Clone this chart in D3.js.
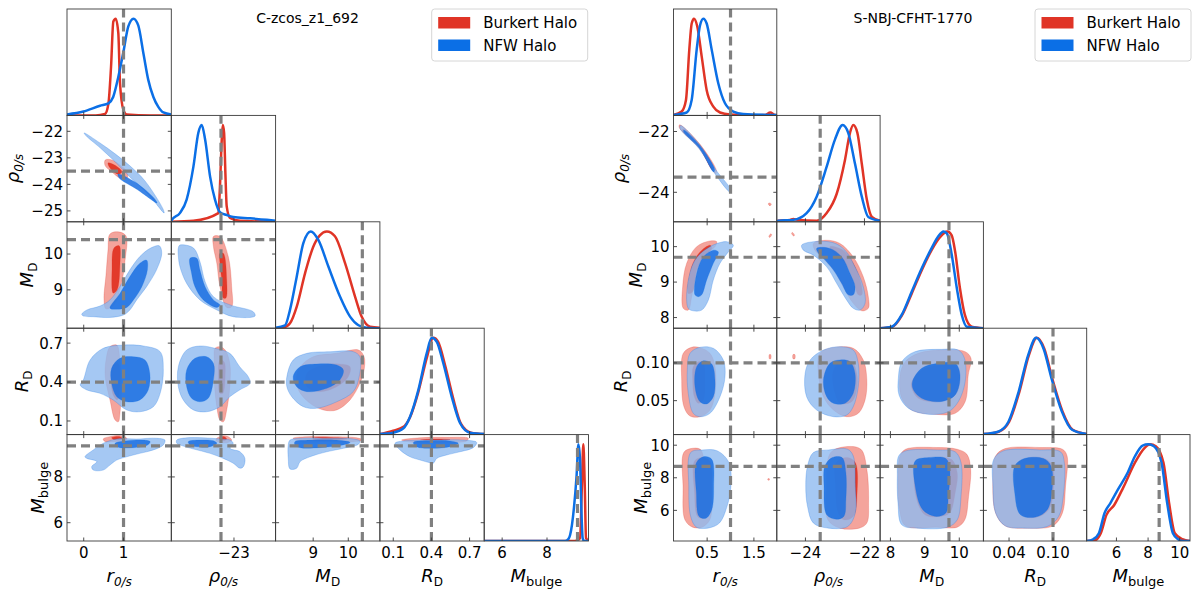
<!DOCTYPE html>
<html><head><meta charset="utf-8">
<script src="https://cdn.jsdelivr.net/npm/d3@7/dist/d3.min.js"></script>
<style>body{margin:0;background:#fff}svg{display:block}text{font-family:"DejaVu Sans",sans-serif}</style>
</head><body><svg id="c" width="1200" height="595"></svg>
<script>
const RED = "#e03426", BLUE = "#0b6fe6", GREY = "#808080";
const seriesNames = ["Burkert Halo", "NFW Halo"];
const axisMain = ["r", "ρ", "M", "R", "M"];
const axisSub = ["0/s", "0/s", "D", "D", "bulge"];
const axisSubItalic = [true, true, false, false, false];

// ---------- LEFT: C-zcos_z1_692 ----------
const leftTitle = "C-zcos_z1_692";
const leftRanges = [[-0.42, 2.2], [-25.41, -21.4], [7.93, 10.9], [-0.005, 0.815], [5.2, 9.85]];
const leftTruth = [1.0, -23.5, 10.4, 0.4, 9.36];
const leftXTicks = [[0, 1], [-23], [9, 10], [0.1, 0.4, 0.7], [6, 8]];
const leftXTickLabels = [["0", "1"], ["−23"], ["9", "10"], ["0.1", "0.4", "0.7"], ["6", "8"]];
const leftYTicks = [[], [-25, -24, -23, -22], [9, 10], [0.1, 0.4, 0.7], [6, 8]];
const leftYTickLabels = [[], ["−25", "−24", "−23", "−22"], ["9", "10"], ["0.1", "0.4", "0.7"], ["6", "8"]];
const leftYLabelX = [0, 19, 33, 28, 44];

const leftDiagBurkert = [
  [[-0.42,0],[0.3,0],[0.535,0.015],[0.62,0.12],[0.686,0.5],[0.744,0.97],[0.804,1.0],[0.869,0.85],[0.912,0.33],[0.995,0.06],[1.08,0.01],[1.67,0],[2.2,0]],
  [[-25.41,0],[-24.56,0.01],[-23.60,0.09],[-23.54,0.36],[-23.47,0.85],[-23.43,1.0],[-23.38,0.92],[-23.33,0.5],[-23.28,0.16],[-23.15,0.04],[-22.77,0.01],[-21.4,0]],
  [[7.93,0],[8.15,0.005],[8.34,0.05],[8.53,0.22],[8.77,0.57],[9.0,0.84],[9.19,0.96],[9.39,1.0],[9.62,0.95],[9.91,0.67],[10.19,0.33],[10.38,0.12],[10.62,0.016],[10.9,0.005]],
  [[-0.005,0.005],[0.10,0.04],[0.18,0.08],[0.232,0.18],[0.297,0.44],[0.363,0.79],[0.415,1.0],[0.452,0.96],[0.507,0.72],[0.57,0.38],[0.633,0.11],[0.711,0.02],[0.815,0.005]],
  [[5.2,0],[9.25,0],[9.47,0.03],[9.56,0.6],[9.62,1.0],[9.68,0.6],[9.74,0.03],[9.85,0]]
];
const leftDiagNFW = [
  [[-0.42,0.01],[-0.01,0.04],[0.41,0.10],[0.62,0.125],[0.74,0.19],[0.87,0.40],[0.99,0.64],[1.12,0.92],[1.25,1.0],[1.37,0.93],[1.50,0.64],[1.62,0.37],[1.75,0.19],[1.87,0.09],[2.0,0.03],[2.2,0.01]],
  [[-25.41,0.01],[-25.39,0.02],[-25.08,0.09],[-24.82,0.23],[-24.56,0.57],[-24.37,0.92],[-24.24,1.0],[-24.11,0.85],[-23.92,0.47],[-23.73,0.23],[-23.54,0.10],[-23.28,0.07],[-23.03,0.05],[-22.38,0.036],[-21.74,0.02],[-21.4,0.01]],
  [[7.93,0.005],[8.20,0.03],[8.34,0.19],[8.53,0.53],[8.72,0.88],[8.93,1.0],[9.15,0.91],[9.43,0.64],[9.76,0.33],[10.05,0.12],[10.29,0.03],[10.52,0.005],[10.9,0]],
  [[-0.005,0.006],[0.10,0.02],[0.18,0.065],[0.232,0.185],[0.297,0.46],[0.363,0.84],[0.402,1.0],[0.442,0.96],[0.493,0.74],[0.56,0.39],[0.625,0.12],[0.703,0.02],[0.815,0.006]],
  [[5.2,0],[8.8,0],[8.95,0.02],[9.03,0.062],[9.20,0.34],[9.32,0.68],[9.40,1.0],[9.47,0.86],[9.53,0.34],[9.59,0.03],[9.66,0],[9.85,0]]
];
// [row, col, polygon]  (x = column parameter, y = row parameter)
const leftBurkert95 = [
  [1,0,[[0.54,-23.08],[0.71,-23.08],[0.91,-23.27],[1.09,-23.53],[1.09,-23.76],[0.91,-23.76],[0.71,-23.53],[0.54,-23.30]]],
  [2,0,[[0.66,10.56],[0.86,10.62],[1.06,10.51],[1.04,9.84],[0.94,9.14],[0.76,8.58],[0.56,8.47],[0.51,8.72],[0.56,9.42],[0.61,10.11]]],
  [2,1,[[-23.79,10.49],[-23.54,10.49],[-23.22,9.93],[-23.09,9.09],[-23.09,8.53],[-23.28,8.51],[-23.54,9.09],[-23.66,9.74],[-23.79,10.21]]],
  [3,0,[[0.66,0.672],[0.83,0.685],[0.91,0.566],[0.95,0.364],[0.91,0.159],[0.87,0.094],[0.79,0.107],[0.66,0.262],[0.54,0.441],[0.56,0.57]]],
  [3,1,[[-23.73,0.66],[-23.54,0.672],[-23.34,0.647],[-23.16,0.544],[-23.16,0.364],[-23.28,0.185],[-23.41,0.094],[-23.54,0.107],[-23.66,0.21],[-23.76,0.416],[-23.76,0.57]]],
  [3,2,[[8.63,0.518],[9.0,0.595],[9.67,0.621],[10.29,0.647],[10.45,0.595],[10.45,0.493],[10.33,0.39],[10.05,0.262],[9.67,0.185],[9.29,0.185],[8.91,0.236],[8.58,0.339],[8.53,0.441]]],
  [4,0,[[0.49,9.66],[0.66,9.76],[0.95,9.80],[1.08,9.69],[1.04,9.57],[0.74,9.54],[0.54,9.54]]],
  [4,1,[[-23.66,9.69],[-23.41,9.80],[-23.22,9.76],[-23.09,9.61],[-23.22,9.51],[-23.54,9.51],[-23.69,9.58]]],
  [4,2,[[8.43,9.69],[8.82,9.76],[9.57,9.76],[10.24,9.71],[10.43,9.61],[10.14,9.54],[9.39,9.54],[8.63,9.54]]],
  [4,3,[[0.166,9.61],[0.310,9.71],[0.52,9.73],[0.69,9.69],[0.677,9.57],[0.493,9.51],[0.258,9.51]]]
];
const leftBurkert68 = [
  [1,0,[[0.61,-23.19],[0.81,-23.30],[0.96,-23.53],[0.86,-23.61],[0.66,-23.38]]],
  [2,0,[[0.76,10.17],[0.89,10.23],[0.91,9.70],[0.84,9.0],[0.74,8.91],[0.71,9.56]]],
  [2,1,[[-23.54,10.02],[-23.41,10.02],[-23.28,9.28],[-23.31,8.77],[-23.41,8.77],[-23.47,9.28],[-23.54,9.74]]],
  [3,0,[[0.74,0.531],[0.86,0.547],[0.91,0.377],[0.84,0.262],[0.74,0.3],[0.69,0.416]]],
  [3,1,[[-23.54,0.57],[-23.38,0.557],[-23.34,0.441],[-23.43,0.313],[-23.54,0.313],[-23.6,0.441]]],
  [3,2,[[8.82,0.467],[9.29,0.531],[9.76,0.539],[10.05,0.518],[10.0,0.441],[9.67,0.364],[9.19,0.326],[8.82,0.364]]],
  [4,0,[[0.70,9.71],[0.91,9.76],[0.98,9.66],[0.79,9.61]]],
  [4,1,[[-23.56,9.69],[-23.38,9.76],[-23.28,9.66],[-23.41,9.58]]],
  [4,2,[[9.0,9.69],[9.67,9.71],[9.96,9.66],[9.57,9.60],[9.0,9.60]]],
  [4,3,[[0.310,9.61],[0.442,9.66],[0.546,9.63],[0.442,9.57],[0.336,9.57]]]
];
const leftNFW95 = [
  [1,0,[[0.01,-22.06],[0.41,-22.44],[0.79,-22.85],[1.16,-23.30],[1.54,-23.87],[1.99,-24.92],[2.02,-25.08],[1.62,-24.37],[1.16,-23.72],[0.79,-23.15],[0.41,-22.62],[0.06,-22.17]]],
  [2,0,[[-0.05,8.32],[0.08,8.44],[0.41,8.55],[0.66,8.72],[0.91,9.09],[1.16,9.56],[1.41,9.93],[1.67,10.16],[1.90,10.23],[1.96,10.02],[1.83,9.56],[1.58,9.09],[1.33,8.72],[1.16,8.44],[1.0,8.30],[0.66,8.23],[0.24,8.25],[-0.01,8.27]]],
  [2,1,[[-25.14,10.17],[-25.08,10.25],[-24.56,10.17],[-24.31,9.79],[-24.11,9.23],[-23.79,8.81],[-23.15,8.58],[-22.26,8.39],[-22.19,8.27],[-23.03,8.25],[-23.66,8.44],[-24.31,8.72],[-24.82,9.18],[-25.08,9.65],[-25.14,9.95]]],
  [3,0,[[-0.01,0.416],[0.16,0.57],[0.49,0.66],[0.99,0.685],[1.50,0.678],[1.92,0.634],[2.0,0.493],[1.92,0.313],[1.75,0.21],[1.41,0.171],[1.08,0.185],[0.74,0.262],[0.41,0.313],[0.08,0.339],[-0.09,0.377]]],
  [3,1,[[-25.14,0.518],[-24.82,0.647],[-24.31,0.678],[-23.73,0.66],[-23.16,0.621],[-22.78,0.518],[-22.45,0.441],[-22.38,0.39],[-22.78,0.339],[-23.16,0.287],[-23.54,0.21],[-24.05,0.171],[-24.56,0.185],[-24.95,0.262],[-25.14,0.364]]],
  [3,2,[[8.25,0.441],[8.43,0.57],[8.82,0.621],[9.48,0.634],[10.14,0.634],[10.33,0.595],[10.31,0.441],[10.14,0.326],[9.67,0.248],[9.10,0.198],[8.72,0.21],[8.39,0.287],[8.25,0.364]]],
  [4,0,[[0.03,8.88],[0.24,9.18],[0.49,9.47],[0.83,9.66],[1.33,9.66],[1.83,9.69],[2.04,9.61],[2.0,9.40],[1.75,9.18],[1.41,9.03],[1.08,8.88],[0.83,8.74],[0.66,8.52],[0.49,8.30],[0.24,8.30],[0.20,8.45],[0.33,8.67],[0.08,8.81]]],
  [4,1,[[-25.20,9.61],[-24.82,9.71],[-24.18,9.71],[-23.54,9.66],[-23.15,9.61],[-23.03,9.47],[-23.15,9.25],[-22.77,9.10],[-22.58,8.81],[-22.64,8.45],[-22.77,8.38],[-23.03,8.60],[-23.41,8.81],[-23.92,9.03],[-24.56,9.22],[-25.01,9.37],[-25.20,9.47]]],
  [4,2,[[8.29,9.40],[8.34,9.61],[8.63,9.69],[9.39,9.69],[10.14,9.66],[10.33,9.57],[10.29,9.43],[9.86,9.25],[9.39,9.10],[8.91,8.88],[8.63,8.67],[8.53,8.38],[8.34,8.35],[8.29,8.81]]],
  [4,3,[[0.114,9.47],[0.179,9.57],[0.389,9.61],[0.651,9.61],[0.756,9.51],[0.729,9.28],[0.625,9.10],[0.52,8.96],[0.442,8.81],[0.415,8.60],[0.389,8.62],[0.310,8.74],[0.232,8.88],[0.153,9.18]]]
];
const leftNFW68 = [
  [1,0,[[0.86,-23.61],[1.29,-23.91],[1.79,-24.56],[1.84,-24.70],[1.33,-24.18],[0.89,-23.76]]],
  [2,0,[[0.66,8.49],[0.91,8.90],[1.16,9.37],[1.41,9.74],[1.58,9.83],[1.60,9.56],[1.46,9.09],[1.25,8.72],[1.08,8.51],[0.83,8.46]]],
  [2,1,[[-24.69,9.88],[-24.43,9.88],[-24.31,9.56],[-24.11,9.09],[-23.79,8.72],[-23.54,8.58],[-23.66,8.51],[-24.18,8.72],[-24.5,9.09],[-24.63,9.46]]],
  [3,0,[[0.70,0.506],[0.91,0.583],[1.25,0.595],[1.54,0.57],[1.66,0.467],[1.62,0.339],[1.41,0.262],[1.08,0.248],[0.83,0.287],[0.70,0.39]]],
  [3,1,[[-24.82,0.493],[-24.5,0.583],[-24.05,0.595],[-23.79,0.544],[-23.79,0.416],[-23.99,0.275],[-24.31,0.248],[-24.63,0.275],[-24.82,0.364]]],
  [3,2,[[8.43,0.441],[8.63,0.518],[9.10,0.539],[9.67,0.531],[9.86,0.493],[9.76,0.416],[9.39,0.352],[8.82,0.326],[8.53,0.364]]],
  [4,0,[[0.79,9.47],[1.08,9.58],[1.50,9.61],[1.67,9.54],[1.58,9.37],[1.25,9.28],[0.91,9.28],[0.79,9.37]]],
  [4,1,[[-24.76,9.54],[-24.31,9.61],[-23.79,9.58],[-23.66,9.47],[-23.92,9.32],[-24.43,9.32],[-24.69,9.40]]],
  [4,2,[[8.48,9.54],[8.91,9.61],[9.67,9.61],[10.05,9.51],[9.76,9.37],[9.19,9.28],[8.63,9.28],[8.48,9.40]]],
  [4,3,[[0.258,9.51],[0.389,9.58],[0.546,9.57],[0.611,9.47],[0.546,9.32],[0.389,9.25],[0.284,9.32]]]
];

// ---------- RIGHT: S-NBJ-CFHT-1770 ----------
const rightTitle = "S-NBJ-CFHT-1770";
const rightRanges = [[-0.22, 1.99], [-24.97, -21.47], [7.7, 10.7], [0.005, 0.146], [4.12, 10.65]];
const rightTruth = [1.0, -23.5, 9.7, 0.10, 8.7];
const rightXTicks = [[0.5, 1.5], [-24, -22], [8, 9, 10], [0.04, 0.10], [6, 8, 10]];
const rightXTickLabels = [["0.5", "1.5"], ["−24", "−22"], ["8", "9", "10"], ["0.04", "0.10"], ["6", "8", "10"]];
const rightYTicks = [[], [-24, -22], [8, 9, 10], [0.05, 0.10], [6, 8, 10]];
const rightYTickLabels = [[], ["−24", "−22"], ["8", "9", "10"], ["0.05", "0.10"], ["6", "8", "10"]];
const rightYLabelX = [0, 625, 642, 627, 647];

const rightDiagBurkert = [
  [[-0.22,0.005],[-0.045,0.04],[0.047,0.16],[0.118,0.68],[0.169,0.95],[0.218,1.0],[0.289,0.92],[0.383,0.61],[0.49,0.26],[0.632,0.09],[0.775,0.03],[0.99,0.01],[1.5,0.002],[1.74,0.005],[1.85,0.03],[1.95,0.005],[1.99,0.003]],
  [[-24.97,0.005],[-24.92,0.01],[-24.52,0.02],[-24.41,0.03],[-24.28,0.02],[-23.62,0.01],[-23.28,0.09],[-22.94,0.29],[-22.66,0.64],[-22.49,0.92],[-22.38,1.0],[-22.24,0.92],[-22.09,0.6],[-21.92,0.23],[-21.75,0.05],[-21.47,0.01]],
  [[7.7,0],[8.04,0.012],[8.33,0.13],[8.62,0.36],[8.91,0.6],[9.20,0.81],[9.44,0.94],[9.65,1.0],[9.78,0.96],[9.88,0.79],[10.02,0.41],[10.16,0.14],[10.36,0.015],[10.7,0]],
  [[0.005,0.005],[0.026,0.03],[0.040,0.13],[0.054,0.44],[0.067,0.82],[0.078,1.0],[0.088,0.89],[0.099,0.58],[0.113,0.24],[0.127,0.05],[0.146,0.006]],
  [[4.12,0],[4.6,0.005],[5.01,0.08],[5.37,0.27],[5.85,0.37],[6.45,0.56],[7.17,0.81],[7.77,0.96],[8.13,1.0],[8.49,0.98],[8.97,0.81],[9.33,0.39],[9.69,0.08],[10.17,0.018],[10.65,0]]
];
const rightDiagNFW = [
  [[-0.22,0.005],[0.062,0.03],[0.169,0.16],[0.276,0.68],[0.347,0.93],[0.418,1.0],[0.49,0.95],[0.597,0.68],[0.739,0.33],[0.882,0.125],[1.06,0.04],[1.27,0.015],[1.99,0.005]],
  [[-24.97,0.005],[-24.92,0.01],[-24.41,0.02],[-23.96,0.09],[-23.62,0.26],[-23.28,0.57],[-23.0,0.85],[-22.74,1.0],[-22.55,0.92],[-22.32,0.6],[-22.09,0.26],[-21.87,0.05],[-21.47,0.01]],
  [[7.7,0],[8.04,0.015],[8.33,0.14],[8.62,0.38],[8.91,0.62],[9.20,0.83],[9.39,0.95],[9.54,1.0],[9.64,0.98],[9.78,0.76],[9.93,0.41],[10.07,0.14],[10.22,0.015],[10.7,0]],
  [[0.005,0.005],[0.025,0.03],[0.039,0.13],[0.053,0.44],[0.066,0.82],[0.077,1.0],[0.087,0.89],[0.098,0.58],[0.112,0.24],[0.126,0.05],[0.146,0.006]],
  [[4.12,0],[4.53,0.018],[4.89,0.08],[5.25,0.29],[5.61,0.39],[6.09,0.53],[6.69,0.70],[7.17,0.876],[7.65,0.987],[8.01,1.0],[8.37,0.98],[8.85,0.81],[9.21,0.39],[9.57,0.08],[9.9,0.018],[10.2,0],[10.65,0]]
];
const rightBurkert95 = [
  [1,0,[[-0.09,-21.78],[0.347,-22.42],[0.70,-23.30],[0.68,-23.38],[0.33,-22.56],[-0.10,-21.86]]],
  [1,0,[[1.82,-24.35],[1.87,-24.38],[1.86,-24.43],[1.81,-24.40]]],
  [2,0,[[-0.011,8.26],[-0.024,8.87],[0.062,9.53],[0.276,10.0],[0.561,10.16],[0.704,10.14],[0.668,10.0],[0.49,9.81],[0.347,9.53],[0.24,9.06],[0.169,8.59],[0.096,8.21]]],
  [2,0,[[1.82,10.28],[1.86,10.36],[1.88,10.34],[1.84,10.26]]],
  [2,1,[[-23.73,10.09],[-23.28,10.18],[-22.83,10.09],[-22.38,9.71],[-22.04,9.15],[-21.87,8.59],[-21.87,8.26],[-22.09,8.19],[-22.38,8.40],[-22.72,8.87],[-23.05,9.34],[-23.45,9.71],[-23.68,9.90]]],
  [2,1,[[-24.47,10.38],[-24.40,10.30],[-24.37,10.32],[-24.44,10.40]]],
  [3,0,[[-0.011,0.1127],[0.169,0.1207],[0.347,0.1202],[0.561,0.1127],[0.668,0.095],[0.668,0.0597],[0.561,0.0376],[0.347,0.0287],[0.133,0.0296],[0.004,0.042],[-0.045,0.0774]]],
  [3,0,[[1.83,0.1055],[1.86,0.1055],[1.86,0.1110],[1.83,0.1110]]],
  [3,1,[[-23.51,0.1127],[-23.05,0.1202],[-22.38,0.1194],[-22.04,0.1039],[-21.92,0.0774],[-21.98,0.0509],[-22.21,0.0332],[-22.6,0.0287],[-23.05,0.0376],[-23.39,0.0552],[-23.56,0.0862]]],
  [3,1,[[-24.42,0.1055],[-24.36,0.1055],[-24.36,0.1110],[-24.42,0.1110]]],
  [3,2,[[8.28,0.084],[8.43,0.1016],[8.81,0.1127],[9.49,0.1171],[10.17,0.1149],[10.34,0.1061],[10.26,0.084],[10.17,0.0486],[9.88,0.0332],[9.30,0.0319],[8.62,0.0376],[8.33,0.0531]]],
  [4,0,[[0.0,9.55],[0.147,9.79],[0.352,9.75],[0.434,9.13],[0.557,7.69],[0.598,6.45],[0.557,5.42],[0.393,4.97],[0.189,4.97],[0.025,5.42],[-0.016,7.48]]],
  [4,0,[[1.80,7.86],[1.83,7.86],[1.83,7.94],[1.80,7.94]]],
  [4,1,[[-23.09,9.65],[-22.57,9.92],[-22.12,9.75],[-21.92,8.52],[-21.86,6.45],[-21.92,5.22],[-22.18,4.91],[-22.83,4.91],[-23.24,5.42],[-23.28,7.48],[-23.24,9.13]]],
  [4,2,[[8.28,9.34],[8.44,9.75],[9.33,9.86],[9.94,9.75],[10.22,9.44],[10.33,8.52],[10.27,6.87],[10.16,5.42],[9.94,4.97],[9.33,4.97],[8.44,5.05],[8.28,5.84],[8.22,7.90]]],
  [4,3,[[0.0217,9.34],[0.0347,9.79],[0.0816,9.86],[0.1129,9.75],[0.1192,9.34],[0.1171,7.48],[0.1129,5.84],[0.1,5.05],[0.066,4.91],[0.0347,5.05],[0.0217,5.84],[0.018,7.90]]]
];
const rightBurkert68 = [
  [1,0,[[-0.02,-21.92],[0.347,-22.46],[0.63,-23.20],[0.61,-23.26],[0.33,-22.53],[-0.03,-21.98]]],
  [2,0,[[0.096,8.68],[0.169,9.43],[0.347,9.85],[0.561,10.04],[0.597,9.95],[0.418,9.71],[0.276,9.34],[0.19,8.73]]],
  [2,1,[[-23.17,10.0],[-22.72,9.90],[-22.32,9.43],[-22.09,8.87],[-22.09,8.64],[-22.21,8.64],[-22.38,9.06],[-22.66,9.53],[-23.05,9.81]]],
  [3,0,[[0.203,0.095],[0.31,0.1016],[0.418,0.0995],[0.454,0.0774],[0.418,0.0509],[0.31,0.0465],[0.225,0.0552],[0.19,0.0774]]],
  [3,1,[[-23.05,0.0906],[-22.83,0.1016],[-22.43,0.1016],[-22.26,0.0862],[-22.26,0.0641],[-22.43,0.0486],[-22.83,0.0465],[-23.0,0.0597],[-23.08,0.0774]]],
  [3,2,[[8.62,0.0751],[8.91,0.0906],[9.49,0.0972],[9.93,0.095],[10.02,0.0796],[9.88,0.0575],[9.39,0.0486],[8.81,0.0531],[8.62,0.0664]]],
  [4,0,[[0.23,9.03],[0.393,9.24],[0.557,9.03],[0.598,7.48],[0.557,6.04],[0.434,5.52],[0.295,5.63],[0.23,7.07]]],
  [4,1,[[-22.96,8.93],[-22.57,9.24],[-22.31,8.93],[-22.25,7.07],[-22.38,5.63],[-22.70,5.42],[-22.89,5.84],[-22.98,7.48]]],
  [4,2,[[8.78,8.93],[9.22,9.18],[9.77,9.13],[9.94,8.31],[9.88,7.07],[9.72,5.84],[9.44,5.63],[9.0,5.73],[8.72,7.07]]],
  [4,3,[[0.0498,8.72],[0.0628,9.18],[0.0889,9.18],[0.0993,8.72],[0.1003,7.07],[0.0941,6.04],[0.0784,5.59],[0.0576,5.73],[0.0498,7.07]]]
];
const rightNFW95 = [
  [1,0,[[-0.07,-21.80],[0.347,-22.44],[0.70,-23.29],[0.99,-23.88],[0.98,-23.98],[0.68,-23.42],[0.33,-22.57],[-0.08,-21.90]]],
  [2,0,[[0.096,8.26],[0.075,8.87],[0.24,9.62],[0.561,10.0],[0.919,10.14],[1.06,10.04],[0.953,9.85],[0.775,9.53],[0.632,9.06],[0.525,8.49],[0.383,8.21],[0.203,8.19]]],
  [2,1,[[-24.13,10.04],[-23.73,10.14],[-23.05,10.11],[-22.66,9.90],[-22.32,9.43],[-22.04,8.87],[-21.98,8.40],[-22.15,8.21],[-22.38,8.26],[-22.6,8.49],[-22.94,8.96],[-23.28,9.43],[-23.73,9.76],[-24.07,9.90]]],
  [3,0,[[0.133,0.1127],[0.347,0.1207],[0.632,0.1194],[0.846,0.1039],[0.882,0.0817],[0.775,0.0552],[0.561,0.0332],[0.347,0.0287],[0.203,0.0332],[0.096,0.0597],[0.075,0.0906]]],
  [3,1,[[-24.01,0.0862],[-23.84,0.1039],[-23.39,0.1171],[-22.83,0.1215],[-22.38,0.1171],[-22.21,0.0995],[-22.21,0.0685],[-22.38,0.042],[-22.6,0.031],[-23.05,0.0287],[-23.62,0.0376],[-23.96,0.0552]]],
  [3,2,[[8.23,0.0796],[8.33,0.1016],[8.71,0.1149],[9.49,0.118],[9.97,0.1171],[10.15,0.1061],[10.17,0.0751],[9.97,0.0486],[9.68,0.0353],[9.10,0.0319],[8.52,0.0399],[8.25,0.0575]]],
  [4,0,[[0.147,9.55],[0.393,9.71],[0.721,9.65],[0.967,8.93],[1.008,7.48],[0.926,6.25],[0.762,5.22],[0.516,4.91],[0.27,4.97],[0.147,5.63],[0.107,7.48]]],
  [4,1,[[-23.93,8.72],[-23.73,9.55],[-23.22,9.71],[-22.57,9.75],[-22.38,9.34],[-22.31,7.48],[-22.31,5.84],[-22.57,5.01],[-23.22,4.91],[-23.73,5.22],[-23.93,6.25],[-23.99,7.48]]],
  [4,2,[[8.24,9.34],[8.44,9.65],[9.33,9.71],[9.88,9.59],[10.05,8.93],[10.05,6.87],[9.94,5.42],[9.66,4.97],[8.78,4.91],[8.33,5.11],[8.22,6.45],[8.20,8.10]]],
  [4,3,[[0.0191,9.13],[0.0321,9.65],[0.0816,9.71],[0.1103,9.59],[0.1155,8.93],[0.114,6.87],[0.1077,5.63],[0.0921,5.01],[0.0608,4.91],[0.0347,5.05],[0.0217,5.84],[0.018,7.48]]]
];
const rightNFW68 = [
  [1,0,[[0.0,-21.95],[0.347,-22.47],[0.66,-23.25],[0.64,-23.33],[0.33,-22.54],[0.0,-22.02]]],
  [2,0,[[0.24,8.64],[0.276,9.25],[0.418,9.71],[0.632,9.90],[0.739,9.85],[0.632,9.53],[0.49,9.06],[0.383,8.64],[0.31,8.59]]],
  [2,1,[[-23.62,9.95],[-23.17,9.95],[-22.77,9.71],[-22.49,9.25],[-22.32,8.87],[-22.38,8.64],[-22.55,8.64],[-22.77,8.96],[-23.05,9.34],[-23.39,9.67],[-23.56,9.81]]],
  [3,0,[[0.276,0.095],[0.418,0.1029],[0.597,0.0986],[0.668,0.0774],[0.632,0.0552],[0.49,0.0456],[0.347,0.0486],[0.24,0.0685]]],
  [3,1,[[-23.39,0.0774],[-23.17,0.0995],[-22.83,0.1039],[-22.49,0.1016],[-22.32,0.0862],[-22.38,0.0597],[-22.66,0.0465],[-23.05,0.0465],[-23.28,0.0552]]],
  [3,2,[[8.64,0.0751],[8.91,0.0929],[9.39,0.0995],[9.88,0.0995],[10.02,0.084],[9.88,0.0575],[9.44,0.0486],[8.91,0.0531],[8.67,0.0641]]],
  [4,0,[[0.27,8.93],[0.434,9.30],[0.598,9.13],[0.639,7.48],[0.598,6.04],[0.475,5.52],[0.328,5.63],[0.27,7.07]]],
  [4,1,[[-23.34,8.72],[-23.09,9.24],[-22.76,9.24],[-22.63,8.31],[-22.63,6.66],[-22.70,5.63],[-22.96,5.46],[-23.28,5.73],[-23.37,7.48]]],
  [4,2,[[8.72,9.03],[9.11,9.24],[9.61,9.18],[9.72,8.52],[9.68,6.87],[9.61,5.84],[9.33,5.63],[8.94,6.04],[8.72,7.48]]],
  [4,3,[[0.0478,8.72],[0.0608,9.18],[0.0869,9.18],[0.0973,8.72],[0.0983,7.07],[0.0921,6.04],[0.0764,5.59],[0.0556,5.73],[0.0478,7.07]]]
];

const svg = d3.select("#c");
const defs = svg.append("defs");

function drawCorner(o) {
  const n = 5;
  const colX = i => o.x0 + i * o.cw;
  const rowY = i => o.y0 + i * o.ch;
  const xs = o.ranges.map((r, i) => d3.scaleLinear().domain(r).range([colX(i), colX(i + 1)]));
  const ys = o.ranges.map((r, i) => d3.scaleLinear().domain(r).range([rowY(i + 1), rowY(i)]));
  const g = svg.append("g");
  const dashAttr = sel => sel.attr("stroke", GREY).attr("stroke-width", 3.2).attr("stroke-dasharray", "9,5");
  const TL = 3.5;
  for (let i = 0; i < n; i++) for (let j = 0; j <= i; j++) {
    const id = `clip-${o.id}-${i}-${j}`;
    defs.append("clipPath").attr("id", id).append("rect")
      .attr("x", colX(j)).attr("y", rowY(i)).attr("width", o.cw).attr("height", o.ch);
    const pg = g.append("g").attr("clip-path", `url(#${id})`);
    const xsc = xs[j];
    if (i === j) {
      const dsc = d3.scaleLinear().domain([0, 1.1]).range([rowY(i + 1), rowY(i)]);
      const line = d3.line().x(d => xsc(d[0])).y(d => dsc(d[1])).curve(d3.curveMonotoneX);
      pg.append("path").attr("d", line(o.diagB[i])).attr("fill", "none").attr("stroke", RED).attr("stroke-width", 2.5);
      pg.append("path").attr("d", line(o.diagN[i])).attr("fill", "none").attr("stroke", BLUE).attr("stroke-width", 2.5);
      pg.append("line").attr("x1", xsc(o.truth[j])).attr("x2", xsc(o.truth[j]))
        .attr("y1", rowY(i + 1)).attr("y2", rowY(i)).call(dashAttr);
    } else {
      const ysc = ys[i];
      const cl = d3.line().x(d => xsc(d[0])).y(d => ysc(d[1])).curve(d3.curveCatmullRomClosed.alpha(0.5));
      const sets = [
        [o.b95, "#f4a49c", 1, RED],
        [o.b68, "#e23a2a", 1, RED],
        [o.n95, "#8ebaf0", 0.8, BLUE],
        [o.n68, "#1a6fe0", 0.85, BLUE]
      ];
      sets.forEach(([arr, col, op, lc]) => {
        arr.filter(c => c[0] === i && c[1] === j).forEach(c => {
          pg.append("path").attr("d", cl(c[2])).attr("fill", col).attr("fill-opacity", op)
            .attr("stroke", lc).attr("stroke-opacity", 0.4).attr("stroke-width", 0.6);
        });
      });
      pg.append("line").attr("x1", xsc(o.truth[j])).attr("x2", xsc(o.truth[j]))
        .attr("y1", rowY(i + 1)).attr("y2", rowY(i)).call(dashAttr);
      pg.append("line").attr("x1", colX(j)).attr("x2", colX(j + 1))
        .attr("y1", ysc(o.truth[i])).attr("y2", ysc(o.truth[i])).call(dashAttr);
    }
    g.append("rect").attr("x", colX(j)).attr("y", rowY(i)).attr("width", o.cw).attr("height", o.ch)
      .attr("fill", "none").attr("stroke", "#3a3a3a").attr("stroke-width", 0.9);
    const tk = g.append("g").attr("stroke", "#3a3a3a").attr("stroke-width", 0.9);
    o.xTicks[j].forEach(t => {
      const x = xsc(t);
      tk.append("line").attr("x1", x).attr("x2", x).attr("y1", rowY(i + 1)).attr("y2", rowY(i + 1) - TL);
      if (i !== j) tk.append("line").attr("x1", x).attr("x2", x).attr("y1", rowY(i)).attr("y2", rowY(i) + TL);
    });
    if (i !== j) {
      o.yTicks[i].forEach(t => {
        const y = ys[i](t);
        tk.append("line").attr("x1", colX(j)).attr("x2", colX(j) + TL).attr("y1", y).attr("y2", y);
        tk.append("line").attr("x1", colX(j + 1)).attr("x2", colX(j + 1) - TL).attr("y1", y).attr("y2", y);
      });
    }
  }
  for (let j = 0; j < n; j++) {
    o.xTicks[j].forEach((t, k) => {
      g.append("text").attr("x", xs[j](t)).attr("y", rowY(n) + 16.5).attr("text-anchor", "middle")
        .attr("font-size", 15).attr("fill", "#000").text(o.xTickLabels[j][k]);
    });
    const lab = g.append("text").attr("x", colX(j) + o.cw / 2).attr("y", 582).attr("text-anchor", "middle").attr("fill", "#000");
    lab.append("tspan").attr("font-size", 18).attr("font-style", "italic").text(axisMain[j]);
    lab.append("tspan").attr("font-size", j === 4 ? 13 : 12).attr("dy", 4)
      .attr("font-style", axisSubItalic[j] ? "italic" : "normal").text(axisSub[j]);
  }
  for (let i = 1; i < n; i++) {
    o.yTicks[i].forEach((t, k) => {
      g.append("text").attr("x", o.x0 - 4).attr("y", ys[i](t)).attr("dy", "0.36em").attr("text-anchor", "end")
        .attr("font-size", 15).attr("fill", "#000").text(o.yTickLabels[i][k]);
    });
    const cy = rowY(i) + o.ch / 2;
    const lab = g.append("text").attr("transform", `translate(${o.yLabelX[i]},${cy}) rotate(-90)`)
      .attr("text-anchor", "middle").attr("fill", "#000");
    lab.append("tspan").attr("font-size", 18).attr("font-style", "italic").text(axisMain[i]);
    lab.append("tspan").attr("font-size", i === 4 ? 13 : 12).attr("dy", 4)
      .attr("font-style", axisSubItalic[i] ? "italic" : "normal").text(axisSub[i]);
  }
  svg.append("text").attr("x", o.titleX).attr("y", 22.8).attr("text-anchor", "middle")
    .attr("font-size", 14).attr("fill", "#000").text(o.title);
  const lg = svg.append("g");
  lg.append("rect").attr("x", o.legX).attr("y", 9).attr("width", 156).attr("height", 52).attr("rx", 3)
    .attr("fill", "#fff").attr("fill-opacity", 0.8).attr("stroke", "#d6d6d6").attr("stroke-width", 1);
  [RED, BLUE].forEach((c, k) => {
    lg.append("rect").attr("x", o.legX + 6.5).attr("y", 17 + k * 22.5).attr("width", 32).attr("height", 11.5).attr("fill", c);
    lg.append("text").attr("x", o.legX + 51.5).attr("y", 28 + k * 22.7).attr("font-size", 15).attr("fill", "#000").text(seriesNames[k]);
  });
}

drawCorner({
  id: "L", x0: 67, y0: 9, cw: 104.3, ch: 106.4,
  ranges: leftRanges, truth: leftTruth,
  xTicks: leftXTicks, xTickLabels: leftXTickLabels, yTicks: leftYTicks, yTickLabels: leftYTickLabels,
  yLabelX: leftYLabelX,
  diagB: leftDiagBurkert, diagN: leftDiagNFW,
  b95: leftBurkert95, b68: leftBurkert68, n95: leftNFW95, n68: leftNFW68,
  title: leftTitle, titleX: 307.5, legX: 431.7
});
drawCorner({
  id: "R", x0: 673.5, y0: 9, cw: 103.3, ch: 106.4,
  ranges: rightRanges, truth: rightTruth,
  xTicks: rightXTicks, xTickLabels: rightXTickLabels, yTicks: rightYTicks, yTickLabels: rightYTickLabels,
  yLabelX: rightYLabelX,
  diagB: rightDiagBurkert, diagN: rightDiagNFW,
  b95: rightBurkert95, b68: rightBurkert68, n95: rightNFW95, n68: rightNFW68,
  title: rightTitle, titleX: 913, legX: 1035
});
</script>
</body></html>
